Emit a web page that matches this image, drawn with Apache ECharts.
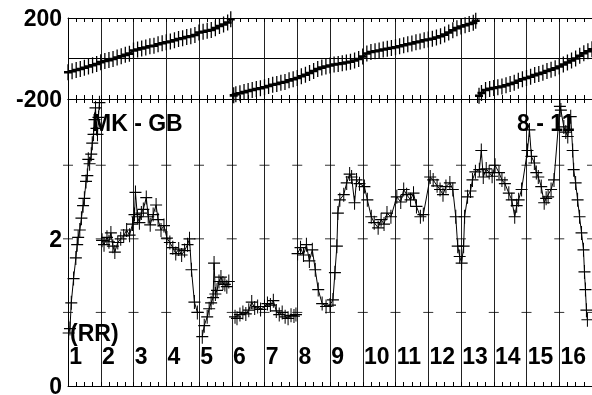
<!DOCTYPE html>
<html><head><meta charset="utf-8">
<script src="https://cdn.jsdelivr.net/npm/echarts@6/dist/echarts.min.js"></script>
<style>html,body{margin:0;padding:0;background:#fff;}#c{width:592px;height:395px;}</style>
</head><body><div id="c"></div>
<script>
// ---- data ----
const hourTicks = [1,2,3,4,5,6,7,8,9,10,11,12,13,14,15,16,17];
const hourLabels = ['1','2','3','4','5','6','7','8','9','10','11','12','13','14','15','16'];
const ampLevels = [1,2,3];
const phaseTickValues = [200, -200];
const ampTickValues = [0, 2];

const phaseHours = [1.000,1.125,1.250,1.375,1.500,1.625,1.750,1.875,2.000,2.125,2.250,2.375,2.500,2.625,2.750,2.875,3.000,3.125,3.250,3.375,3.500,3.625,3.750,3.875,4.000,4.125,4.250,4.375,4.500,4.625,4.750,4.875,5.000,5.125,5.250,5.375,5.500,5.625,5.750,5.875,5.970,
6.020,
6.060,6.125,6.250,6.375,6.500,6.625,6.750,6.875,7.000,7.125,7.250,7.375,7.500,7.625,7.750,7.875,8.000,8.125,8.250,8.375,8.500,8.625,8.750,8.875,9.000,9.125,9.250,9.375,9.500,9.625,9.750,9.875,10.000,10.125,10.250,10.375,10.500,10.625,10.750,10.875,11.000,11.125,11.250,11.375,11.500,11.625,11.750,11.875,12.000,12.125,12.250,12.375,12.500,12.625,12.750,12.875,13.000,13.125,13.250,13.375,13.450,
13.500,
13.550,13.625,13.750,13.875,14.000,14.125,14.250,14.375,14.500,14.625,14.750,14.875,15.000,15.125,15.250,15.375,15.500,15.625,15.750,15.875,16.000,16.125,16.250,16.375,16.500,16.625,16.750,16.875,17.000];
const phaseDeg = [-68,-63,-57,-52,-46,-40,-33,-27,-18,-12,-8,-2,5,11,18,24,40,44,50,54,60,63,70,75,80,84,90,96,100,106,110,116,128,132,137,141,150,160,168,178,194,
null,
-182,-176,-172,-166,-160,-156,-151,-147,-142,-136,-130,-126,-120,-116,-108,-102,-96,-88,-80,-72,-62,-52,-45,-40,-35,-30,-27,-24,-20,-16,-10,-2,10,25,32,36,40,44,48,52,56,60,65,70,74,80,84,90,94,98,104,110,118,128,140,150,158,164,170,176,186,
null,
-184,-170,-156,-150,-146,-142,-138,-132,-126,-120,-110,-102,-96,-90,-82,-76,-70,-62,-55,-48,-40,-30,-20,-10,0,14,26,36,46];

const ampHours = [1.02,1.06,1.10,1.17,1.24,1.28,1.31,1.36,1.41,1.46,1.50,1.55,1.59,1.62,1.66,1.71,1.74,1.78,1.81,1.84,1.87,1.90,1.93,1.96,
1.98,
2.04,2.10,2.19,2.25,2.31,2.37,2.43,2.52,2.61,2.70,2.79,2.88,2.97,3.03,3.06,3.12,3.18,3.24,3.30,3.39,3.45,3.51,3.60,3.69,3.75,3.84,3.93,4.02,4.11,4.20,4.29,4.38,4.47,4.56,4.65,4.71,4.77,4.86,4.95,
4.99,
5.10,5.16,5.25,5.31,5.37,5.43,5.46,5.50,5.55,5.61,5.67,5.73,5.79,5.85,5.91,
5.96,
6.10,6.16,6.25,6.34,6.43,6.52,6.61,6.70,6.79,6.88,7.00,7.09,7.18,7.27,7.36,7.45,7.54,7.63,7.72,7.81,7.90,7.96,
7.99,
8.01,8.10,8.19,8.28,8.37,8.46,8.55,8.64,8.76,8.88,9.00,9.09,9.15,9.21,9.24,9.30,9.42,9.51,9.60,9.66,9.75,9.81,9.90,
10.05,10.14,10.26,10.35,10.47,10.56,10.65,10.74,10.86,
11.04,11.16,11.25,11.34,11.46,11.55,11.64,11.76,11.85,
12.06,12.15,12.27,12.36,12.45,12.54,12.66,12.75,12.84,12.90,12.96,13.02,13.08,13.11,13.20,13.29,13.35,13.44,13.56,13.62,13.68,
13.77,13.86,13.95,14.04,14.16,14.25,14.34,14.46,14.55,14.64,14.70,14.76,14.85,
15.03,15.09,15.15,15.24,15.30,15.36,15.45,15.54,15.60,15.66,15.75,15.84,
16.02,16.05,16.14,16.20,16.26,16.35,16.41,16.44,16.50,16.56,16.62,16.68,16.74,16.77,16.80,16.83,16.86];
const ampValues = [0.72,0.78,1.13,1.46,1.74,1.92,2.02,2.12,2.28,2.45,2.55,2.78,2.86,3.08,3.02,3.15,3.30,3.42,3.62,3.78,3.50,3.42,3.65,3.85,
null,
1.98,1.92,2.02,1.96,2.08,1.90,1.82,1.95,2.00,2.04,2.12,2.05,2.20,2.33,2.63,2.30,2.22,2.35,2.40,2.56,2.30,2.19,2.33,2.46,2.26,2.12,2.18,2.01,1.95,1.88,1.80,1.86,1.78,1.84,1.92,2.00,1.58,1.14,1.00,
null,
0.67,0.82,0.94,1.05,1.13,1.20,1.67,1.25,1.30,1.42,1.48,1.40,1.38,1.35,1.42,
null,
0.94,0.92,0.97,1.00,0.98,1.03,1.14,1.06,1.08,1.04,1.08,1.12,1.10,1.16,1.02,0.97,1.00,0.94,0.92,0.96,0.95,0.97,
null,
1.80,1.88,1.78,1.92,1.70,1.85,1.58,1.31,1.12,1.08,1.10,1.17,1.54,1.90,2.35,2.53,2.60,2.76,2.88,2.84,2.49,2.80,2.75,
2.71,2.53,2.30,2.22,2.15,2.26,2.20,2.35,2.30,
2.57,2.50,2.67,2.60,2.53,2.62,2.44,2.30,2.33,
2.84,2.80,2.72,2.67,2.60,2.71,2.76,2.67,2.30,1.90,1.76,1.67,1.90,2.30,2.57,2.65,2.80,2.91,2.94,3.20,2.84,
2.95,2.90,2.85,3.00,2.90,2.80,2.75,2.62,2.53,2.30,2.45,2.53,2.67,
3.20,3.48,3.12,3.03,2.90,2.84,2.71,2.49,2.55,2.57,2.67,2.80,
3.80,3.75,3.52,3.45,3.39,3.66,3.20,2.94,2.76,2.53,2.30,2.08,1.85,1.55,1.31,1.03,0.90];

const panelTitle = 'MK - GB';
const panelTitleRight = '8 - 11';
const polLabel = '(RR)';

// ---- chart ----
const FONT = '"Liberation Sans", Arial, Helvetica, sans-serif';
const BOLD23 = 'bold 23px ' + FONT;
const PLUS = 'path://M0,7H10M5,0V14';
const phaseData = phaseHours.map((h, i) => [h, phaseDeg[i]]);
const ampData = ampHours.map((h, i) => [h, ampValues[i]]);
const dashData = [];
hourTicks.forEach(h => ampLevels.forEach(l => dashData.push([h, l])));

const axisBase = (grid, pos) => ({
  gridIndex: grid, type: 'value', min: hourTicks[0], max: hourTicks[hourTicks.length - 1], interval: 1,
  position: pos,
  axisLine: {show: true, onZero: false, lineStyle: {color: '#000', width: 1}},
  axisTick: {show: true, inside: true, length: 4, lineStyle: {color: '#000'}},
  minorTick: {show: true, splitNumber: 4, length: 4, lineStyle: {color: '#000'}},
  splitLine: {show: pos === 'bottom', lineStyle: {color: '#222', width: 1}},
  axisLabel: {show: false}
});

const chart = echarts.init(document.getElementById('c'), null, {renderer: 'canvas'});
chart.setOption({
  animation: false,
  backgroundColor: '#fff',
  grid: [
    {left: 68, top: 18, width: 533, height: 81},
    {left: 68, top: 99, width: 533, height: 287}
  ],
  xAxis: [axisBase(0, 'bottom'), axisBase(0, 'top'), axisBase(1, 'bottom'), axisBase(1, 'top')],
  yAxis: [
    {gridIndex: 0, type: 'value', min: -200, max: 200, interval: 200,
     axisLine: {show: true, lineStyle: {color: '#000'}}, axisTick: {show: false},
     splitLine: {show: true, lineStyle: {color: '#000'}}, axisLabel: {show: false}},
    {gridIndex: 1, type: 'value', min: 0, max: 3.9, interval: 1,
     axisLine: {show: true, lineStyle: {color: '#000'}}, axisTick: {show: false},
     splitLine: {show: false}, axisLabel: {show: false}}
  ],
  series: [
    {type: 'scatter', xAxisIndex: 2, yAxisIndex: 1, data: dashData, symbol: 'rect', symbolSize: [10, 1],
     itemStyle: {color: '#000'}, silent: true, z: 1},
    {type: 'line', xAxisIndex: 0, yAxisIndex: 0, data: phaseData, symbol: PLUS, symbolSize: [8, 16],
     showAllSymbol: true, connectNulls: false, clip: false,
     itemStyle: {color: 'none', borderColor: '#000', borderWidth: 1.8},
     lineStyle: {color: '#000', width: 1.4}, z: 3},
    {type: 'line', xAxisIndex: 2, yAxisIndex: 1, data: ampData, symbol: PLUS, symbolSize: [12, 14],
     showAllSymbol: true, connectNulls: false, clip: false,
     itemStyle: {color: 'none', borderColor: '#000', borderWidth: 1.1},
     lineStyle: {color: '#000', width: 1}, z: 3}
  ]
});

// text labels placed through the chart's own scales
const px = h => chart.convertToPixel({xAxisIndex: 2}, h);
const pyPhase = v => chart.convertToPixel({yAxisIndex: 0}, v);
const pyAmp = v => chart.convertToPixel({yAxisIndex: 1}, v);
const labelX = px(hourTicks[0]) - 6;
const graphics = [];
hourLabels.forEach((t, i) => graphics.push({type: 'text', x: px(hourTicks[i]) + 1.2, y: pyAmp(0) - 28, z: 10,
  style: {text: t, font: BOLD23, fill: '#000', align: 'left', verticalAlign: 'middle'}}));
phaseTickValues.forEach(v => graphics.push({type: 'text', x: labelX, y: pyPhase(v) + 2, z: 10,
  style: {text: String(v), font: BOLD23, fill: '#000', align: 'right', verticalAlign: 'middle'}}));
ampTickValues.forEach(v => graphics.push({type: 'text', x: labelX, y: pyAmp(v) + 2, z: 10,
  style: {text: String(v), font: BOLD23, fill: '#000', align: 'right', verticalAlign: 'middle'}}));
graphics.push({type: 'text', x: 92, y: 125, z: 10, style: {text: panelTitle, font: BOLD23, fill: '#000', verticalAlign: 'middle'}});
graphics.push({type: 'text', x: 517, y: 125, z: 10, style: {text: panelTitleRight, font: BOLD23, fill: '#000', verticalAlign: 'middle'}});
graphics.push({type: 'text', x: 70, y: 335, z: 10, style: {text: polLabel, font: BOLD23, fill: '#000', verticalAlign: 'middle'}});
chart.setOption({graphic: graphics});
</script></body></html>
